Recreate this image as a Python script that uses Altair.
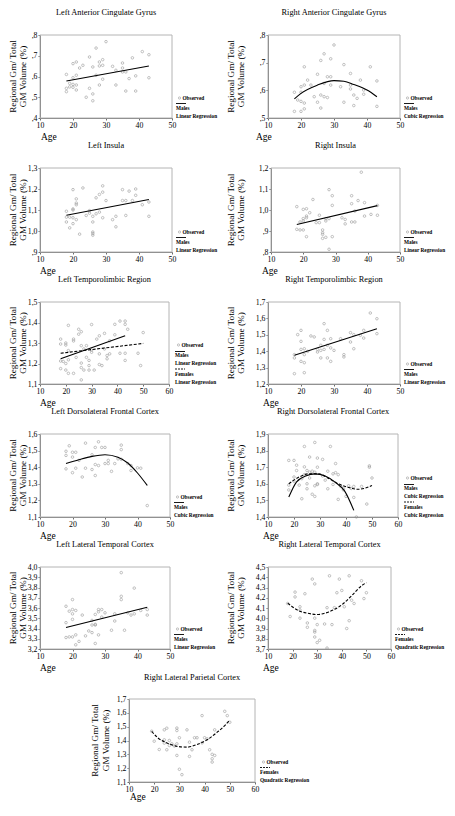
import altair as alt
import pandas as pd

FONT = "Liberation Serif"
PT = "#8f8f8f"
FRAME = "#b4b4b4"
AXC = "#6e6e6e"

# ---------------- data ----------------
# Left Anterior Cingulate Gyrus
lacg_age = [18,18,18,19,19,20,20,20,20,21,21,21,21,22,23,24,25,25,26,26,26,27,27,28,28,28,29,29,29,30,32,33,33,35,35,35,36,36,37,38,39,39,41,43,43]
lacg_val = [.61,.543,.527,.567,.55,.662,.594,.562,.548,.67,.606,.559,.535,.641,.654,.50,.694,.543,.646,.516,.483,.737,.606,.67,.651,.559,.681,.654,.587,.768,.649,.559,.63,.665,.641,.622,.622,.53,.59,.69,.603,.53,.72,.705,.594]
lacg_fit_age = [18, 43]
lacg_fit_val = [.578, .651]

# Right Anterior Cingulate Gyrus
racg_age = [18,18,19,20,20,20,20,21,21,21,21,22,23,24,25,25,26,26,26,27,27,27,28,28,29,29,29,30,32,33,33,35,35,35,36,36,37,38,39,39,41,43,43]
racg_val = [.593,.524,.565,.613,.593,.56,.524,.685,.619,.554,.533,.637,.619,.577,.658,.557,.708,.583,.536,.732,.625,.577,.649,.574,.714,.649,.619,.764,.613,.693,.557,.661,.619,.605,.583,.545,.571,.637,.601,.586,.685,.634,.542]
racg_fit_age = [18, 20, 25, 30, 33, 36, 40, 43]
racg_fit_val = [.569, .589, .619, .635, .633, .621, .601, .577]

# Left Insula
lins_age = [18,18,18,19,19,20,20,20,20,20,21,21,21,21,22,23,24,25,25,26,26,26,26,26,27,27,28,28,29,29,29,30,32,33,33,35,35,36,36,37,38,39,39,41,43,43]
lins_val = [1.094,1.066,1.043,1.066,1.015,1.197,1.105,1.10,1.063,1.035,1.153,1.133,1.125,1.054,.985,1.205,1.074,1.097,1.085,1.07,1.043,.995,.988,.98,1.158,1.082,1.174,1.09,1.215,1.185,1.063,1.145,1.054,1.07,1.02,1.197,1.145,1.145,1.074,1.19,1.145,1.20,1.17,1.125,1.138,1.07]
lins_fit_age = [18, 43]
lins_fit_val = [1.075, 1.15]

# Right Insula
rins_age = [18,18,19,19,20,20,20,20,21,21,21,21,22,23,24,25,25,26,26,26,26,27,27,27,28,28,28,29,29,29,32,33,33,35,35,35,36,36,37,38,39,39,41,43,43]
rins_val = [1.016,.908,.943,.905,1.003,.959,.948,.905,1.006,.971,.963,.873,.987,1.05,.94,.975,.94,.905,.892,.884,.865,.959,.948,.87,1.097,.959,.813,1.068,1.022,.873,.963,.955,.934,1.068,1.03,.943,.943,.995,1.045,1.18,1.035,.971,.979,1.022,.975]
rins_fit_age = [18, 43]
rins_fit_val = [.931, 1.021]

# Left Temporolimbic Region
ltl_age = [18,18,18,18,20,20,19,20,20,21,21,21,21,23,23,23,24,25,25,26,26,26,26,26,27,27,28,28,29,29,29,30,30,30,31,32,33,33,33,34,35,35,36,36,37,37,39,39,41,41,43,43,43,43,44,48,49,50]
ltl_val = [1.319,1.295,1.212,1.175,1.30,1.29,1.21,1.20,1.168,1.386,1.263,1.218,1.152,1.319,1.31,1.152,1.23,1.367,1.343,1.355,1.287,1.202,1.18,1.12,1.271,1.168,1.287,1.23,1.215,1.19,1.168,1.39,1.266,1.255,1.168,1.319,1.335,1.247,1.195,1.19,1.347,1.271,1.239,1.223,1.247,1.311,1.391,1.34,1.407,1.25,1.407,1.391,1.25,1.215,1.367,1.25,1.19,1.351]
ltl_m_age = [18, 43]
ltl_m_val = [1.223, 1.335]
ltl_f_age = [18, 50]
ltl_f_val = [1.25, 1.298]

# Right Temporolimbic Region
rtl_age = [18,18,18,19,20,20,20,20,21,21,21,21,22,23,24,25,25,26,26,26,27,27,27,28,28,28,29,29,29,30,32,33,33,35,35,36,36,38,39,39,41,43,43]
rtl_val = [1.379,1.359,1.263,1.501,1.527,1.46,1.411,1.338,1.415,1.379,1.33,1.269,1.399,1.493,1.487,1.411,1.395,1.436,1.405,1.359,1.568,1.472,1.411,1.527,1.436,1.359,1.476,1.42,1.338,1.405,1.476,1.379,1.365,1.513,1.456,1.501,1.415,1.497,1.527,1.48,1.633,1.598,1.507]
rtl_fit_age = [18, 43]
rtl_fit_val = [1.375, 1.537]

# Left Dorsolateral Frontal Cortex
ldl_age = [18,18,19,20,20,21,22,24,27,28,29,30,35,35,35,34,33,26,27,28,30,31,31,40,37,38,18,20,21,23,24,26,27,32,38,41,43]
ldl_val = [1.496,1.471,1.529,1.49,1.461,1.49,1.441,1.545,1.519,1.553,1.519,1.519,1.533,1.506,1.447,1.45,1.422,1.475,1.416,1.41,1.422,1.422,1.441,1.396,1.422,1.41,1.39,1.367,1.394,1.341,1.394,1.386,1.35,1.375,1.38,1.394,1.169]
ldl_fit_age = [18, 22, 26, 30, 34, 37, 40, 43]
ldl_fit_val = [1.422, 1.445, 1.465, 1.475, 1.46, 1.425, 1.365, 1.29]

# Right Dorsolateral Frontal Cortex
rdl_age = [18,20,21,24,26,28,29,31,34,36,49,24,25,27,28,29,33,35,
           18,18,20,20,21,22,23,23,24,25,25,26,26,27,28,28,29,29,31,32,33,35,36,37,37,38,39,39,40,41,42,43,43,44,46,48,49,50]
rdl_val = [1.741,1.741,1.712,1.825,1.761,1.849,1.755,1.747,1.825,1.722,1.708,1.702,1.68,1.676,1.67,1.70,1.676,1.66,
           1.563,1.592,1.641,1.616,1.68,1.592,1.51,1.631,1.655,1.57,1.60,1.635,1.67,1.537,1.524,1.588,1.596,1.60,1.647,1.622,1.57,1.596,1.667,1.655,1.506,1.584,1.572,1.563,1.524,1.588,1.572,1.518,1.584,1.40,1.584,1.478,1.70,1.635]
rdl_m_age = [18, 21, 24.5, 28, 32, 35.8, 39.5, 43]
rdl_m_val = [1.52, 1.612, 1.647, 1.66, 1.647, 1.61, 1.556, 1.44]
rdl_f_age = [18, 22, 25.7, 29.5, 33, 37, 41.5, 44.5, 47, 50]
rdl_f_val = [1.60, 1.641, 1.66, 1.66, 1.635, 1.60, 1.576, 1.567, 1.572, 1.59]

# Left Lateral Temporal Cortex
llt_age = [18,19,20,20,20,20,21,23,26,26,27,27,28,28,29,29,30,33,33,35,35,35,37,38,39,39,41,43,43,
           18,18,19,20,21,21,22,24,25,26,27,27,28,32,36]
llt_val = [3.617,3.569,3.682,3.585,3.543,3.489,3.576,3.531,3.479,3.434,3.441,3.537,3.585,3.563,3.585,3.511,3.553,3.473,3.543,3.945,3.714,3.682,3.553,3.531,3.794,3.543,3.576,3.585,3.531,
           3.457,3.312,3.318,3.318,3.338,3.241,3.274,3.328,3.376,3.36,3.434,3.254,3.338,3.383,3.383]
llt_fit_age = [18, 43]
llt_fit_val = [3.409, 3.608]

# Right Lateral Temporal Cortex
rlt_age = [18,19,21,21,23,23,23,25,26,28,29,29,30,33,34,35,36,37,38,39,40,41,43,43,44,45,48,49,50,
           26,29,29,29,31,30,34,42]
rlt_val = [4.144,4.017,4.255,4.208,4.112,4.081,4.001,4.239,3.954,4.382,4.335,4.001,3.938,3.944,4.103,4.414,3.938,4.103,4.249,4.382,4.271,4.112,4.414,3.976,4.176,4.144,4.366,4.192,4.249,
           3.912,3.881,3.865,3.817,3.785,3.763,3.709,3.90]
rlt_fit_age = [18, 22.7, 26.7, 30, 34.7, 40, 44, 48, 50]
rlt_fit_val = [4.147, 4.071, 4.046, 4.036, 4.062, 4.131, 4.22, 4.316, 4.347]

# Right Lateral Parietal Cortex
rlp_age = [19,20,22,24,24,24,25,25,26,26,27,28,29,29,29,29,30,30,31,33,34,34,35,36,37,39,39,40,41,42,43,43,43,44,44,48,49,50]
rlp_val = [1.467,1.395,1.335,1.477,1.405,1.381,1.489,1.333,1.40,1.364,1.376,1.36,1.49,1.472,1.376,1.292,1.42,1.192,1.153,1.477,1.388,1.285,1.333,1.42,1.42,1.383,1.58,1.42,1.412,1.333,1.30,1.268,1.244,1.477,1.292,1.611,1.58,1.532]
rlp_fit_age = [19, 21.4, 25.3, 29.2, 33, 37, 41, 45, 48, 50]
rlp_fit_val = [1.467, 1.42, 1.381, 1.357, 1.352, 1.371, 1.405, 1.46, 1.508, 1.549]

X50 = [10, 20, 30, 40, 50]
X60 = [10, 20, 30, 40, 50, 60]

YTITLE = ["Regional Gm/ Total", "GM Volume (%)"]
LABEL_EXPR = ("datum.value < 1 ? replace(format(datum.value, '.1f'), '0.', ',') "
              ": replace(format(datum.value, '.1f'), '.', ',')")
LEG = 5.3

ONE = pd.DataFrame({"k": [0]})


def txt(text, x, y, size, **kw):
    return alt.Chart(ONE).mark_text(text=text, font=FONT, fontSize=size, color="black", **kw).encode(
        x=alt.value(x), y=alt.value(y))


def panel(x0, h, title, ages, vals, fits, xdom, xticks, ydom, yticks, w,
          legend, leg_dx, ytx, age_dx, title_dy=22, age_dy=22):
    """One scatter panel drawn inside a row whose coordinate origin is the left plot's corner."""
    xs = alt.Scale(domain=xdom, range=[x0, x0 + w], nice=False, zero=False)
    ys = alt.Scale(domain=ydom, nice=False, zero=False)
    common = dict(title=None, grid=False, labelFont=FONT, labelFontSize=7.8, labelColor="black",
                  tickSize=2, domainColor=AXC, tickColor=AXC, labelOverlap=False, labelBound=False)
    xax = alt.Axis(values=xticks, orient="bottom", labelPadding=1, labelFlush=False, **common)
    yextra = {"offset": -x0} if x0 else {}
    yax = alt.Axis(values=yticks, orient="left", labelPadding=1, labelExpr=LABEL_EXPR, **yextra, **common)
    X = lambda: alt.X("age:Q", scale=xs, axis=xax)
    Y = lambda: alt.Y("val:Q", scale=ys, axis=yax)

    layers = [alt.Chart(ONE).mark_rect(filled=False, color=FRAME, strokeWidth=1).encode(
        x=alt.value(x0), x2=alt.value(x0 + w), y=alt.value(0), y2=alt.value(h))]
    pts = pd.DataFrame({"age": ages, "val": vals})
    layers.append(alt.Chart(pts).mark_point(shape="circle", filled=False, size=6.5, color=PT,
                                            strokeWidth=0.8).encode(x=X(), y=Y()))
    for fa, fv, dashed in fits:
        kw = {"strokeDash": [3, 1.6]} if dashed else {}
        df = pd.DataFrame({"age": fa, "val": fv})
        layers.append(alt.Chart(df).mark_line(color="black", strokeWidth=1.1,
                                              interpolate="monotone", **kw).encode(x=X(), y=Y()))
    layers.append(txt(title, x0 + w / 2, -title_dy, 8.3, align="center", baseline="middle"))
    # y title: two rotated lines
    for k, line in enumerate(YTITLE):
        layers.append(txt(line, x0 + ytx + 10.5 * k, h / 2, 9.2, angle=270, align="center",
                          baseline="middle"))
    layers.append(txt("Age", x0 + age_dx, h + age_dy, 9.5, align="left", baseline="alphabetic"))
    lx = x0 + w + leg_dx
    for kind, label, dy in legend:
        y = h + dy
        if kind == "obs":
            layers.append(alt.Chart(ONE).mark_point(shape="circle", filled=False, size=5, color=PT,
                                                    strokeWidth=0.8).encode(
                x=alt.value(lx + 3.5), y=alt.value(y)))
            layers.append(txt(label, lx + 6.5, y, LEG, align="left", baseline="middle", fontWeight="bold"))
        elif kind in ("solid", "dash"):
            kw = {"strokeDash": [2, 1]} if kind == "dash" else {}
            layers.append(alt.Chart(ONE).mark_rule(color="black", strokeWidth=0.9, **kw).encode(
                x=alt.value(lx), x2=alt.value(lx + 10), y=alt.value(y)))
        else:
            layers.append(txt(label, lx, y, LEG, align="left", baseline="middle", fontWeight="bold"))
    return alt.layer(*layers)


def leg3(group, reg, dashed=False):
    return [("obs", "Observed", -20), ("dash" if dashed else "solid", "", -14.5),
            ("text", group, -10), ("text", reg, -2)]


def leg5(reg):
    return [("obs", "Observed", -39), ("solid", "", -32.5), ("text", "Males", -29),
            ("text", reg, -21), ("dash", "", -15), ("text", "Females", -10), ("text", reg, -2)]


def row(left, right, h):
    wr = right["x0"] + right["w"]
    a = panel(h=h, **left)
    b = panel(h=h, **right)
    return alt.layer(a, b).resolve_scale(x="independent", y="independent").properties(width=wr, height=h)


YL = -27.5   # first line of the left-column y title
YR = -37.5   # first line of the right-column y title

r1 = row(dict(x0=0, title="Left Anterior Cingulate Gyrus", ages=lacg_age, vals=lacg_val,
              fits=[(lacg_fit_age, lacg_fit_val, False)], xdom=[10, 50], xticks=X50,
              ydom=[0.4, 0.8], yticks=[0.4, 0.5, 0.6, 0.7, 0.8], w=132,
              legend=leg3("Males", "Linear Regression"), leg_dx=4, ytx=YL, age_dx=1),
         dict(x0=228, title="Right Anterior Cingulate Gyrus", ages=racg_age, vals=racg_val,
              fits=[(racg_fit_age, racg_fit_val, False)], xdom=[10, 50], xticks=X50,
              ydom=[0.5, 0.8], yticks=[0.5, 0.6, 0.7, 0.8], w=132,
              legend=leg3("Males", "Cubic Regression"), leg_dx=4, ytx=YR, age_dx=-12), 83)
r2 = row(dict(x0=0, title="Left Insula", ages=lins_age, vals=lins_val,
              fits=[(lins_fit_age, lins_fit_val, False)], xdom=[10, 50], xticks=X50,
              ydom=[0.9, 1.3], yticks=[0.9, 1.0, 1.1, 1.2, 1.3], w=132,
              legend=leg3("Males", "Linear Regression"), leg_dx=4, ytx=YL, age_dx=0),
         dict(x0=231, title="Right Insula", ages=rins_age, vals=rins_val,
              fits=[(rins_fit_age, rins_fit_val, False)], xdom=[10, 50], xticks=X50,
              ydom=[0.8, 1.2], yticks=[0.8, 0.9, 1.0, 1.1, 1.2], w=129,
              legend=leg3("Males", "Linear Regression"), leg_dx=4, ytx=YR - 3, age_dx=-9), 84)
r3 = row(dict(x0=0, title="Left Temporolimbic Region", ages=ltl_age, vals=ltl_val,
              fits=[(ltl_m_age, ltl_m_val, False), (ltl_f_age, ltl_f_val, True)], xdom=[10, 60], xticks=X60,
              ydom=[1.1, 1.5], yticks=[1.1, 1.2, 1.3, 1.4, 1.5], w=129,
              legend=leg5("Linear Regression"), leg_dx=6, ytx=YL, age_dx=0),
         dict(x0=228, title="Right Temporolimbic Region", ages=rtl_age, vals=rtl_val,
              fits=[(rtl_fit_age, rtl_fit_val, False)], xdom=[10, 50], xticks=X50,
              ydom=[1.2, 1.7], yticks=[1.2, 1.3, 1.4, 1.5, 1.6, 1.7], w=132,
              legend=leg3("Males", "Linear Regression"), leg_dx=4, ytx=YR, age_dx=-5), 82)
r4 = row(dict(x0=0, title="Left Dorsolateral Frontal Cortex", ages=ldl_age, vals=ldl_val,
              fits=[(ldl_fit_age, ldl_fit_val, False)], xdom=[10, 50], xticks=X50,
              ydom=[1.1, 1.6], yticks=[1.1, 1.2, 1.3, 1.4, 1.5, 1.6], w=130,
              legend=leg3("Males", "Cubic Regression"), leg_dx=4, ytx=YL, age_dx=0),
         dict(x0=228, title="Right Dorsolateral Frontal Cortex", ages=rdl_age, vals=rdl_val,
              fits=[(rdl_m_age, rdl_m_val, False), (rdl_f_age, rdl_f_val, True)], xdom=[10, 60], xticks=X60,
              ydom=[1.4, 1.9], yticks=[1.4, 1.5, 1.6, 1.7, 1.8, 1.9], w=130,
              legend=leg5("Cubic Regression"), leg_dx=6, ytx=YR, age_dx=-5), 83)
r5 = row(dict(x0=0, title="Left Lateral Temporal Cortex", ages=llt_age, vals=llt_val,
              fits=[(llt_fit_age, llt_fit_val, False)], xdom=[10, 50], xticks=X50,
              ydom=[3.2, 4.0], yticks=[3.2, 3.3, 3.4, 3.5, 3.6, 3.7, 3.8, 3.9, 4.0], w=130,
              legend=leg3("Males", "Linear Regression"), leg_dx=4, ytx=YL, age_dx=0),
         dict(x0=228, title="Right Lateral Temporal Cortex", ages=rlt_age, vals=rlt_val,
              fits=[(rlt_fit_age, rlt_fit_val, True)], xdom=[10, 60], xticks=X60,
              ydom=[3.7, 4.5], yticks=[3.7, 3.8, 3.9, 4.0, 4.1, 4.2, 4.3, 4.4, 4.5], w=123,
              legend=leg3("Females", "Quadratic Regression", dashed=True), leg_dx=4, ytx=YR, age_dx=-5), 82)
r6 = panel(x0=89, h=83, title="Right Lateral Parietal Cortex", ages=rlp_age, vals=rlp_val,
           fits=[(rlp_fit_age, rlp_fit_val, True)], xdom=[10, 60], xticks=X60,
           ydom=[1.1, 1.7], yticks=[1.1, 1.2, 1.3, 1.4, 1.5, 1.6, 1.7], w=126,
           legend=leg3("Females", "Quadratic Regression", dashed=True), leg_dx=5, ytx=-34, age_dx=1,
           title_dy=21, age_dy=18).properties(width=215, height=83)

chart = alt.vconcat(r1, r2, r3, r4, r5, r6, spacing=50, bounds="flush").properties(
    autosize=alt.AutoSizeParams(type="none"),
    padding={"left": 32, "top": 27, "right": 407, "bottom": 768},
    background="white",
).configure_view(stroke="transparent")

chart.save("out.html", embed_options={"renderer": "svg", "actions": False})
